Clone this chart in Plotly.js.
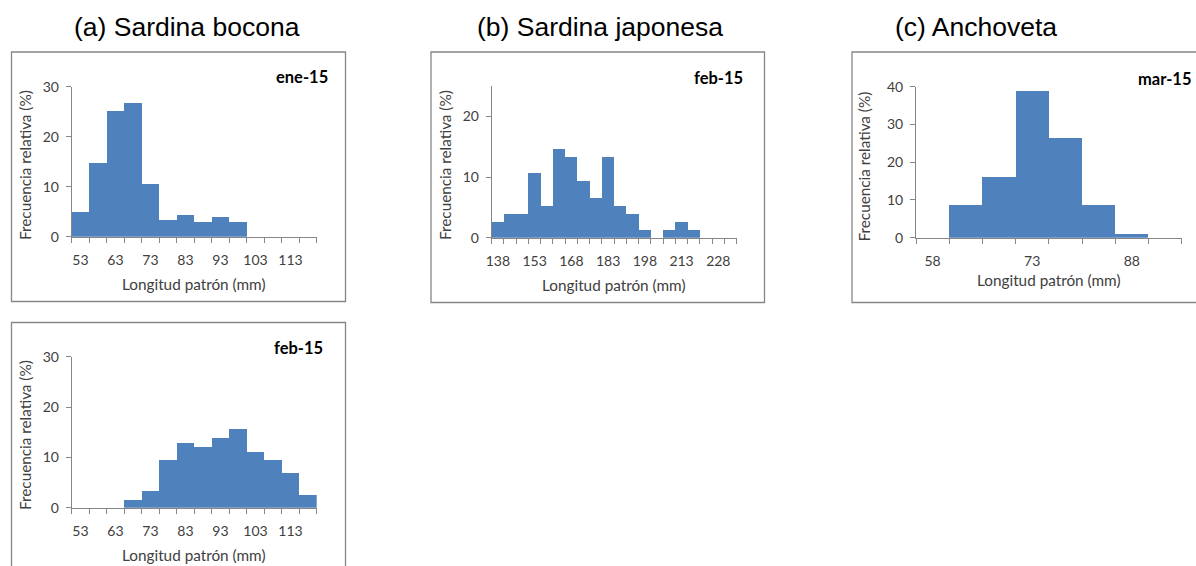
<!DOCTYPE html>
<html>
<head>
<meta charset="utf-8">
<script src="https://cdn.plot.ly/plotly-3.0.1.min.js"></script>
<style>html,body{margin:0;padding:0;background:#fff;}#chart{width:1196px;height:566px;}</style>
</head>
<body>
<div id="chart"></div>
<script>
// ---- data ----
const catA = [53, 58, 63, 68, 73, 78, 83, 88, 93, 98, 103, 108, 113, 118];
const valA = [4.9, 14.7, 25.2, 26.8, 10.5, 3.3, 4.3, 2.9, 3.9, 2.9, 0, 0, 0, 0];
const labA = [53, 63, 73, 83, 93, 103, 113];

const catB = [138, 143, 148, 153, 158, 163, 168, 173, 178, 183, 188, 193, 198, 203, 208, 213, 218, 223, 228, 233];
const valB = [2.6, 3.9, 3.9, 10.6, 5.3, 14.6, 13.3, 9.4, 6.6, 13.3, 5.3, 3.9, 1.3, 0, 1.3, 2.6, 1.3, 0, 0, 0];
const labB = [138, 153, 168, 183, 198, 213, 228];

const catC = [58, 63, 68, 73, 78, 83, 88, 93];
const valC = [0, 8.7, 16.0, 38.9, 26.4, 8.7, 1.0, 0];
const labC = [58, 73, 88];

const catD = [53, 58, 63, 68, 73, 78, 83, 88, 93, 98, 103, 108, 113, 118];
const valD = [0, 0, 0, 1.6, 3.3, 9.5, 12.9, 12.1, 13.9, 15.6, 11.1, 9.5, 6.9, 2.5];
const labD = [53, 63, 73, 83, 93, 103, 113];

const panelTitles = ['(a) Sardina bocona', '(b) Sardina japonesa', '(c) Anchoveta'];
const monthLabels = ['ene-15', 'feb-15', 'mar-15', 'feb-15'];
const xTitle = 'Longitud patrón (mm)';
const yTitle = 'Frecuencia relativa (%)';

// ---- helpers ----
const W = 1196, H = 566;
const px = x => x / W;
const py = y => 1 - y / H;
const BAR = '#4F81BD';
const AX = '#868686';
const TXT = '#404040';
const FONT = 'Lato, "Noto Sans", sans-serif';

function bounds(cats) {
  const step = cats[1] - cats[0];
  const b = cats.map(c => c - step / 2);
  b.push(cats[cats.length - 1] + step / 2);
  return b;
}

function xAxis(cats, labs, x0, x1, anchor) {
  const b = bounds(cats);
  return {
    domain: [px(x0), px(x1)], anchor: anchor,
    range: [b[0], b[b.length - 1]],
    showline: true, linecolor: AX, linewidth: 1,
    showgrid: false, zeroline: false,
    tickmode: 'array', tickvals: labs, ticktext: labs.map(String),
    ticks: '', ticklabelstandoff: 10,
    tickfont: {family: FONT, size: 14, color: TXT},
    minor: {ticks: 'outside', tickmode: 'array', tickvals: b, ticklen: 5, tickcolor: AX, tickwidth: 1, showgrid: false},
    fixedrange: true
  };
}
function yAxis(maxv, tv, yTop, yBot, anchor) {
  return {
    domain: [py(yBot), py(yTop)], anchor: anchor,
    range: [0, maxv],
    showline: true, linecolor: AX, linewidth: 1,
    showgrid: false, zeroline: false,
    tickmode: 'array', tickvals: tv,
    ticks: 'outside', ticklen: 5, tickcolor: AX, tickwidth: 1,
    ticklabelstandoff: 4,
    tickfont: {family: FONT, size: 14, color: TXT},
    fixedrange: true
  };
}

function bar(cats, vals, xa, ya) {
  return {type: 'bar', x: cats, y: vals, width: cats[1] - cats[0], xaxis: xa, yaxis: ya,
    marker: {color: BAR, line: {width: 0}}, hoverinfo: 'x+y', showlegend: false};
}

const data = [
  bar(catA, valA, 'x', 'y'),
  bar(catB, valB, 'x2', 'y2'),
  bar(catC, valC, 'x3', 'y3'),
  bar(catD, valD, 'x4', 'y4')
];

const frame = (x0, y0, x1, y1) => ({type: 'rect', xref: 'paper', yref: 'paper',
  x0: px(x0), x1: px(x1), y0: py(y1), y1: py(y0), line: {color: AX, width: 1.3}, fillcolor: 'rgba(0,0,0,0)', layer: 'below'});

function txt(text, x, y, opts) {
  return Object.assign({text: text, xref: 'paper', yref: 'paper', x: px(x), y: py(y),
    showarrow: false, xanchor: 'center', yanchor: 'middle',
    font: {family: FONT, size: 15.3, color: TXT}}, opts || {});
}

const titleFont = {family: 'Arial, "Liberation Sans", sans-serif', size: 26.5, color: '#000'};
const boldFont = {family: FONT, size: 16.5, color: '#000'};

const annotations = [
  txt(panelTitles[0], 186.5, 27, {font: titleFont}),
  txt(panelTitles[1], 600, 27, {font: titleFont}),
  txt(panelTitles[2], 975.5, 27, {font: titleFont}),
  txt('<b>' + monthLabels[0] + '</b>', 330, 77, {xanchor: 'right', font: boldFont}),
  txt('<b>' + monthLabels[1] + '</b>', 745, 78, {xanchor: 'right', font: boldFont}),
  txt('<b>' + monthLabels[2] + '</b>', 1193, 79, {xanchor: 'right', font: boldFont}),
  txt('<b>' + monthLabels[3] + '</b>', 325, 348, {xanchor: 'right', font: boldFont}),
  txt(xTitle, 194.2, 284),
  txt(xTitle, 614.2, 285),
  txt(xTitle, 1048.8, 280),
  txt(xTitle, 194.2, 555),
  txt(yTitle, 25, 165, {textangle: -90}),
  txt(yTitle, 445, 165, {textangle: -90}),
  txt(yTitle, 863.5, 167, {textangle: -90}),
  txt(yTitle, 25, 435, {textangle: -90})
];

const layout = {
  width: W, height: H,
  margin: {l: 0, r: 0, t: 0, b: 0},
  paper_bgcolor: '#fff', plot_bgcolor: 'rgba(0,0,0,0)',
  bargap: 0, showlegend: false,
  xaxis: xAxis(catA, labA, 71.7, 316.7, 'y'),
  yaxis: yAxis(30, [0, 10, 20, 30], 86.7, 236.7, 'x'),
  xaxis2: xAxis(catB, labB, 491.7, 736.7, 'y2'),
  yaxis2: yAxis(25, [0, 10, 20], 86, 237.7, 'x2'),
  xaxis3: xAxis(catC, labC, 916, 1181.7, 'y3'),
  yaxis3: yAxis(40, [0, 10, 20, 30, 40], 86.7, 237.7, 'x3'),
  xaxis4: xAxis(catD, labD, 71.7, 316.7, 'y4'),
  yaxis4: yAxis(30, [0, 10, 20, 30], 356.7, 507.7, 'x4'),
  shapes: [
    frame(11.5, 52, 345.5, 301.5),
    frame(431, 52, 764.5, 302.5),
    frame(852, 52, 1205, 302.5),
    frame(11.5, 322.5, 345.5, 575)
  ],
  annotations: annotations
};

Plotly.newPlot('chart', data, layout, {displayModeBar: false, staticPlot: true});
</script>
</body>
</html>
